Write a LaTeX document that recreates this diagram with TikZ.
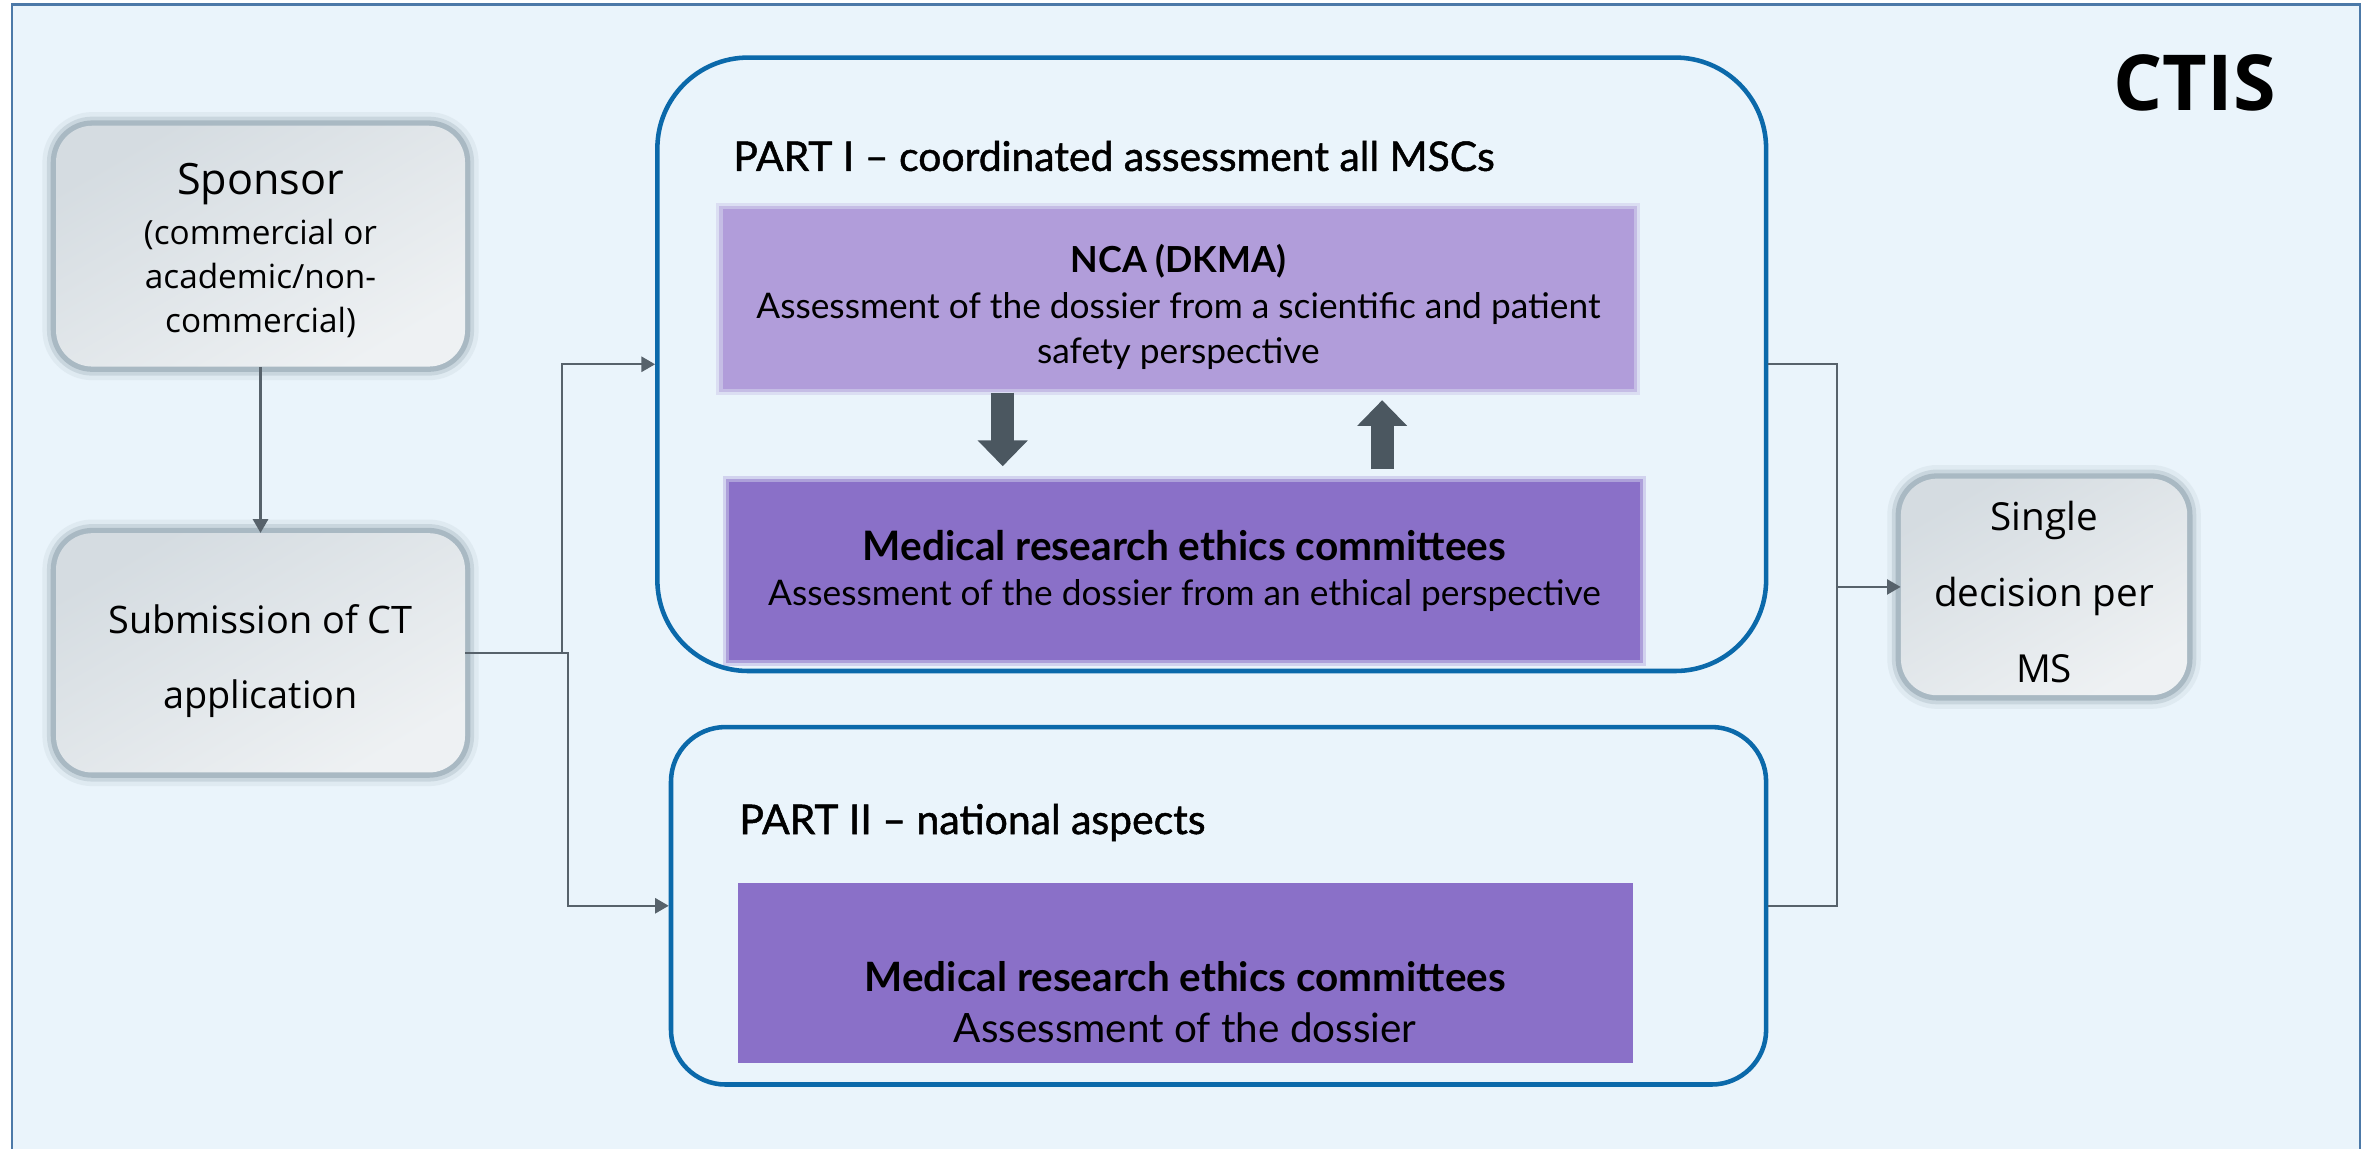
\documentclass[tikz,border=0pt]{standalone}
\usepackage{fontspec}
\setmainfont{Open Sans}
\newfontfamily\ssp{Lato}
\newfontfamily\sspm[FakeBold=1.2]{Lato}
\usetikzlibrary{arrows.meta,calc}
\definecolor{bgblue}{HTML}{EAF4FB}
\definecolor{framec}{HTML}{4C79A8}
\definecolor{partc}{HTML}{0B69AA}
\definecolor{ncac}{HTML}{B19DDA}
\definecolor{ethc}{HTML}{8A70C8}
\definecolor{blockc}{HTML}{4B5760}
\definecolor{connc}{HTML}{57626B}
\definecolor{glowc}{HTML}{A2B2BD}
\definecolor{grayA}{HTML}{D5DCE1}
\definecolor{grayB}{HTML}{EEF1F3}
\begin{document}
\begin{tikzpicture}[x=1pt,y=-1pt,
  graybox/.style={rounded corners=24pt, inner sep=0pt, align=center,
    top color=grayA, bottom color=grayB, shading angle=30,
    preaction={draw=glowc, line width=18pt, opacity=0.15},
    preaction={draw=glowc, line width=12pt, opacity=0.35},
    preaction={draw=glowc, line width=7pt, opacity=0.8}},
  partbox/.style={draw=partc, line width=3pt, fill=bgblue, inner sep=0pt},
  softbox/.style={fill=#1, inner sep=0pt, align=center,
    preaction={draw=#1, line width=8pt, opacity=0.25},
    preaction={draw=#1, line width=4pt, opacity=0.5}},
  hardbox/.style={fill=#1, inner sep=0pt, align=center},
  conn/.style={draw=connc, line width=1.4pt},
  arr/.style={conn, -{Triangle[width=10pt,length=9pt]}},
  blockarr/.style={draw=blockc, line width=15pt, -{Triangle[width=32pt,length=17pt]}},
  titlefont/.style={font=\sspm\fontsize{27}{30}\selectfont},
  boxfont/.style={font=\ssp\fontsize{23.3}{30}\selectfont}
]
\path[use as bounding box, clip] (0,0) rectangle (1568,758);
\fill[white] (0,0) rectangle (1568,758);
\draw[draw=framec, line width=1.5pt, fill=bgblue] (8,3) rectangle (1558,790);

% left column
\node[graybox, minimum width=270pt, minimum height=159pt,
      font=\fontsize{22}{29}\selectfont] (sponsor) at (172,162.5)
  {\rule{0pt}{26pt}{\fontsize{28.5}{34}\selectfont Sponsor}\\[4pt](commercial or\\academic/non-\\commercial)};
\node[graybox, minimum width=270pt, minimum height=158pt,
      font=\fontsize{25}{50}\selectfont] (submit) at (172,431)
  {\rule{0pt}{30pt}Submission of CT\\application};

% part boxes
\node[partbox, rounded corners=60pt, minimum width=732pt, minimum height=405pt] (part1) at (800,240.5) {};
\node[partbox, rounded corners=36pt, minimum width=723pt, minimum height=236pt] (part2) at (804.5,598) {};

\node[titlefont, anchor=west, inner sep=0pt] (t1) at (484,103) {PART I – coordinated assessment all MSCs};
\node[titlefont, anchor=west, inner sep=0pt] (t2) at (488,543) {PART II – national aspects};

\node[softbox=ncac, minimum width=602pt, minimum height=119pt, boxfont] (nca) at (778,197.5)
  {\rule{0pt}{29pt}{\bfseries\fontsize{23.7}{30}\selectfont NCA (DKMA)}\\Assessment of the dossier from a scientific and patient\\safety perspective};
\node[softbox=ethc, minimum width=602pt, minimum height=118pt, boxfont] (eth1) at (782,377)
  {{\bfseries\fontsize{26.8}{32}\selectfont Medical research ethics committees}\\Assessment of the dossier from an ethical perspective};
\node[hardbox=ethc, minimum width=591pt, minimum height=119pt, font=\ssp\fontsize{26.7}{34}\selectfont] (eth2) at (782.5,642.5)
  {\strut\\{\bfseries Medical research ethics committees}\\Assessment of the dossier};

% block arrows
\draw[blockarr] ($(nca.south)+(-116,2)$) -- ($(eth1.north)+(-120,-10)$);
\draw[blockarr] ($(eth1.north)+(130.5,-8)$) -- ($(nca.south)+(134.5,7)$);

% right
\node[graybox, minimum width=189pt, minimum height=143pt,
      font=\fontsize{25.5}{50}\selectfont] (single) at (1349.5,387.5)
  {\rule{0pt}{26pt}Single\\decision per\\MS};
\node[font=\bfseries\fontsize{51}{60}\selectfont, inner sep=0pt] (ctis) at (1449,55) {CTIS};

% connectors
\draw[arr] (sponsor.south) -- (submit.north);
\draw[arr] (submit.east) -- ++(64,0) |- (part1.west);
\draw[arr] (submit.east) -- ++(68,0) |- (part2.west);
\coordinate (jx) at ($(part1.east)+(45,0)$);
\draw[conn] (part1.east) -- (jx) |- (part2.east);
\draw[arr] (single.west -| jx) -- (single.west);
\end{tikzpicture}
\end{document}
